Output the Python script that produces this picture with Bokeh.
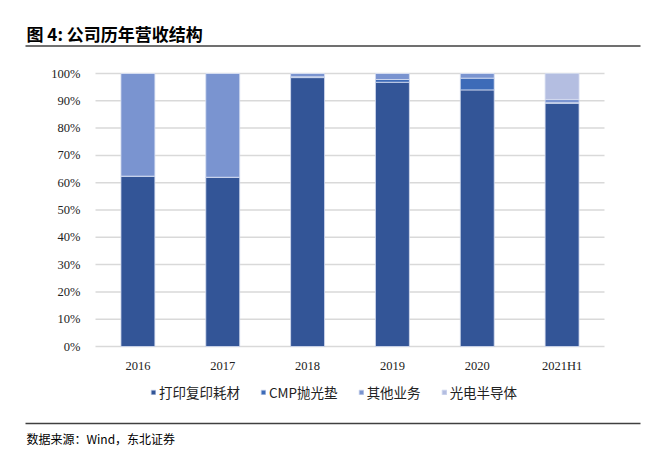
from bokeh.plotting import figure
from bokeh.models import (Range1d, Legend, LegendItem, PrintfTickFormatter,
                          ColumnDataSource, FixedTicker)
from bokeh.core.properties import value
from bokeh.embed import file_html
from bokeh.resources import INLINE

categories = ["2016", "2017", "2018", "2019", "2020", "2021H1"]
printing = [62.4, 62.0, 98.5, 96.8, 94.0, 89.1]
cmp_pad = [0.0, 0.0, 0.3, 1.0, 4.3, 0.2]
other = [37.6, 38.0, 1.2, 2.2, 1.7, 1.2]
opto = [0.0, 0.0, 0.0, 0.0, 0.0, 9.5]
series_names = ["打印复印耗材", "CMP抛光垫", "其他业务", "光电半导体"]
colors = ["#335597", "#3D6BB8", "#7A94D0", "#B4BEE1"]
y_ticks = [0, 10, 20, 30, 40, 50, 60, 70, 80, 90, 100]
title_text = "图 4: 公司历年营收结构"
source_text = "数据来源：Wind，东北证券"

SERIF = "Liberation Serif"
CJK = "Noto Sans CJK SC"

# canvas / plot-area geometry (pixels)
W, H = 658, 451
PL, PR, PT, PB = 95, 604, 73, 346          # plot area edges
n = len(categories)
ux = (PR - PL) / n                          # px per category
uy = (PB - PT) / 100.0                      # px per percent
x_start = -0.5 - PL / ux
x_end = n - 0.5 + (W - PR) / ux
y_start = -(H - PB) / uy
y_end = 100 + PT / uy

p = figure(width=W, height=H, x_range=Range1d(x_start, x_end),
           y_range=Range1d(y_start, y_end), output_backend="svg",
           toolbar_location=None, min_border=0, min_border_left=0,
           min_border_right=0, min_border_top=0, min_border_bottom=0)
p.outline_line_color = None
p.grid.visible = False
p.extra_x_ranges = {"px": Range1d(0, W)}
p.extra_y_ranges = {"px": Range1d(H, 0)}

xs = list(range(n))

# horizontal gridlines at the y ticks, spanning the plot area
p.segment(x0=[-0.5] * len(y_ticks), x1=[n - 0.5] * len(y_ticks), y0=y_ticks, y1=y_ticks,
          line_color="#D9D9D9", line_width=1.5)

data = ColumnDataSource({"x": xs, "s0": printing, "s1": cmp_pad, "s2": other, "s3": opto})
rs = p.vbar_stack(["s0", "s1", "s2", "s3"], x="x", width=0.4, source=data,
                  color=colors, line_color="#D5DDF0", line_width=0.8)

# axes placed at fixed data locations inside the frame
p.yaxis.fixed_location = -0.5
p.yaxis.ticker = FixedTicker(ticks=y_ticks)
p.yaxis.formatter = PrintfTickFormatter(format="%d%%")
p.yaxis.axis_line_color = None
p.yaxis.major_tick_line_color = None
p.yaxis.minor_tick_line_color = None
p.yaxis.major_label_text_font = SERIF
p.yaxis.major_label_text_font_size = "12.5px"
p.yaxis.major_label_text_color = "#222222"
p.yaxis.major_label_standoff = 9

p.xaxis.fixed_location = 0
p.xaxis.ticker = FixedTicker(ticks=xs)
p.xaxis.major_label_overrides = {i: c for i, c in zip(xs, categories)}
p.xaxis.axis_line_color = None
p.xaxis.major_tick_line_color = None
p.xaxis.minor_tick_line_color = None
p.xaxis.major_label_text_font = SERIF
p.xaxis.major_label_text_font_size = "12.5px"
p.xaxis.major_label_text_color = "#222222"
p.xaxis.major_label_standoff = 6

legend = Legend(items=[LegendItem(label=nm, renderers=[r]) for nm, r in zip(series_names, rs)],
                orientation="horizontal", location=(150, 49),
                label_text_font=CJK, label_text_font_size="13.5px",
                label_text_color="#222222", glyph_width=6, glyph_height=6,
                spacing=20, label_standoff=3, padding=0, margin=0,
                label_height=20, border_line_color=None, background_fill_alpha=0)
p.add_layout(legend)

# header / footer in pixel coordinates
p.text(x=[26], y=[33], text=[title_text], text_font=value(CJK),
       text_font_style="bold", text_font_size="17px", text_color="#000000",
       text_baseline="middle", text_align="left", x_range_name="px", y_range_name="px")
p.segment(x0=[25, 25], y0=[45.5, 423], x1=[640, 640], y1=[45.5, 423],
          line_color="#404040", line_width=1.5, x_range_name="px", y_range_name="px")
p.text(x=[26], y=[438], text=[source_text], text_font=value(CJK),
       text_font_size="12px", text_color="#000000",
       text_baseline="middle", text_align="left", x_range_name="px", y_range_name="px")

open("out.html", "w").write(file_html(p, INLINE))
